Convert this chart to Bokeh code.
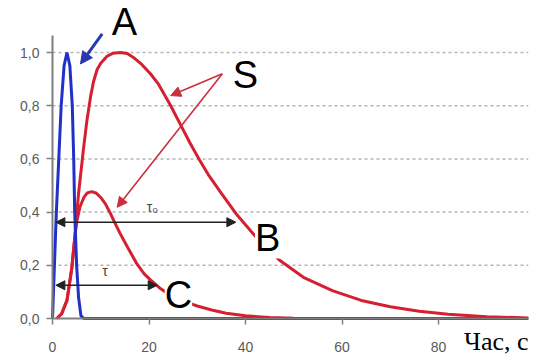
from bokeh.plotting import figure
from bokeh.models import Range1d, FixedTicker, Label, Arrow, NormalHead
from bokeh.embed import file_html
from bokeh.resources import INLINE

# Time axis (seconds) and normalized concentration curves
a_time = [0, 0.4, 0.8, 1.3, 1.8, 2.4, 3.0, 3.6, 4.1, 4.4, 4.6, 5.0, 5.4, 5.9, 6.5, 98.6]
a_conc = [0, 0.2, 0.4, 0.6, 0.8, 0.95, 1.0, 0.95, 0.8, 0.6, 0.4, 0.2, 0.08, 0.01, 0, 0]

b_time = [0.9, 1.9, 3.0, 4.0, 4.7, 5.4, 6.4, 7.1, 7.9, 8.5, 9.25, 10, 11.3, 12.5, 14.1, 15.5,
          17, 18.5, 20.3, 22, 24.5, 26.5, 28.5, 30.5, 32.5, 35, 38, 42, 47, 52, 58, 64, 70,
          76, 82, 90, 98.6]
b_conc = [0, 0.018, 0.068, 0.19, 0.32, 0.47, 0.634, 0.74, 0.835, 0.89, 0.936, 0.96, 0.986, 0.997, 1.0, 0.996,
          0.978, 0.955, 0.92, 0.88, 0.80, 0.73, 0.66, 0.595, 0.535, 0.47, 0.395, 0.31, 0.22, 0.155, 0.105, 0.068, 0.044,
          0.027, 0.016, 0.007, 0.002]

c_time = [0.9, 1.9, 3.0, 4.0, 4.7, 5.1, 5.7, 6.5, 7.2, 8.1, 9.0, 10, 11, 12, 12.7, 14, 15.5, 17.5,
          19, 20.3, 22.2, 24, 26, 28, 30, 33, 36, 40, 45, 50, 55]
c_conc = [0, 0.018, 0.068, 0.19, 0.32, 0.37, 0.42, 0.455, 0.472, 0.477, 0.472, 0.455, 0.43, 0.395, 0.368, 0.32, 0.27, 0.205,
          0.168, 0.145, 0.115, 0.093, 0.075, 0.06, 0.047, 0.032, 0.02, 0.01, 0.004, 0.001, 0]

# Transit-time markers
tau0_span = [0.7, 38.0]
tau0_level = 0.362
tau_span = [0.7, 21.7]
tau_level = 0.125

x_ticks = [0, 20, 40, 60, 80]
y_ticks = [0.0, 0.2, 0.4, 0.6, 0.8, 1.0]
y_tick_labels = ["0,0", "0,2", "0,4", "0,6", "0,8", "1,0"]

RED = "#d42030"
BLUE = "#2030c8"
GRAY = "#7f7f7f"
TICK_TXT = "#5a5a5a"

# Drawn extent of the axes
X_END = 98.6
Y_END = 1.064

# The frame fills the canvas; axes are pinned at x=0 / y=0 inside it
p = figure(width=551, height=360, output_backend="svg", toolbar_location=None,
           x_range=Range1d(-52 / 4.825, 499 / 4.825), y_range=Range1d(-42 / 266, 318 / 266),
           min_border_left=0, min_border_right=0, min_border_top=0, min_border_bottom=0)
p.outline_line_color = None
p.background_fill_color = "white"
p.border_fill_color = "white"

p.xaxis.fixed_location = 0
p.yaxis.fixed_location = 0
p.xaxis.bounds = (0, X_END)
p.yaxis.bounds = (0, Y_END)
p.xaxis.ticker = FixedTicker(ticks=x_ticks)
p.yaxis.ticker = FixedTicker(ticks=y_ticks)
p.yaxis.major_label_overrides = {t: s for t, s in zip(y_ticks, y_tick_labels)}
for ax in (p.xaxis, p.yaxis):
    ax.axis_line_color = GRAY
    ax.axis_line_width = 2
    ax.major_tick_line_color = GRAY
    ax.major_tick_line_width = 1.5
    ax.major_tick_in = 0
    ax.major_tick_out = 6
    ax.minor_tick_line_color = None
    ax.major_label_text_color = TICK_TXT
    ax.major_label_text_font = "Liberation Sans"
    ax.major_label_text_font_size = "14px"
p.yaxis.major_label_standoff = 7
p.xaxis.major_label_standoff = 17

# Horizontal dashed gridlines over the axis extent only
p.xgrid.visible = False
p.ygrid.visible = False
grid_levels = y_ticks[1:]
p.segment(x0=[0] * len(grid_levels), y0=grid_levels, x1=[X_END] * len(grid_levels), y1=grid_levels,
          line_color="#b4b4b4", line_dash="3 3", line_width=1.5)

# Curves
p.line(b_time, b_conc, line_color=RED, line_width=3)
p.line(c_time, c_conc, line_color=RED, line_width=3)
p.line(a_time, a_conc, line_color=BLUE, line_width=3)

# Double-headed time spans
for span, level in ((tau0_span, tau0_level), (tau_span, tau_level)):
    p.add_layout(Arrow(x_start=span[0], y_start=level, x_end=span[1], y_end=level,
                       line_color="#222222", line_width=1.6,
                       start=NormalHead(size=9, fill_color="#222222", line_color="#222222"),
                       end=NormalHead(size=9, fill_color="#222222", line_color="#222222")))

# Pointers
p.add_layout(Arrow(x_start=10.3, y_start=1.07, x_end=5.8, y_end=0.957,
                   line_color="#2838b0", line_width=3,
                   end=NormalHead(size=12, fill_color="#2838b0", line_color="#2838b0")))
for hx, hy in ((24.5, 0.838), (13.4, 0.418)):
    p.add_layout(Arrow(x_start=35.2, y_start=0.92, x_end=hx, y_end=hy,
                       line_color="#c83040", line_width=1.6,
                       end=NormalHead(size=10, fill_color="#c83040", line_color="#c83040")))

def letter(txt, x, y, bg=None):
    lab = Label(x=x, y=y, text=txt, text_font="Liberation Sans", text_font_size="38px",
                text_color="black", text_align="center", text_baseline="alphabetic")
    if bg:
        lab.background_fill_color = bg
    p.add_layout(lab)

letter("A", 14.9, 1.1165)
letter("S", 40.0, 0.917)
letter("B", 44.6, 0.3045, bg="white")
letter("C", 26.1, 0.090, bg="white")

p.add_layout(Label(x=20.7, y=0.421, text="τ₀", text_font="Liberation Sans", text_font_size="14px",
                   text_color="#444444", text_align="center", text_baseline="alphabetic"))
p.add_layout(Label(x=10.9, y=0.177, text="τ", text_font="Liberation Sans", text_font_size="14px",
                   text_color="#444444", text_align="center", text_baseline="alphabetic"))

p.add_layout(Label(x=85.3, y=-0.0865, text="Час, с", text_font="Liberation Serif", text_font_size="26px",
                   text_color="black", text_align="left", text_baseline="alphabetic"))

open("out.html", "w").write(file_html(p, INLINE))
